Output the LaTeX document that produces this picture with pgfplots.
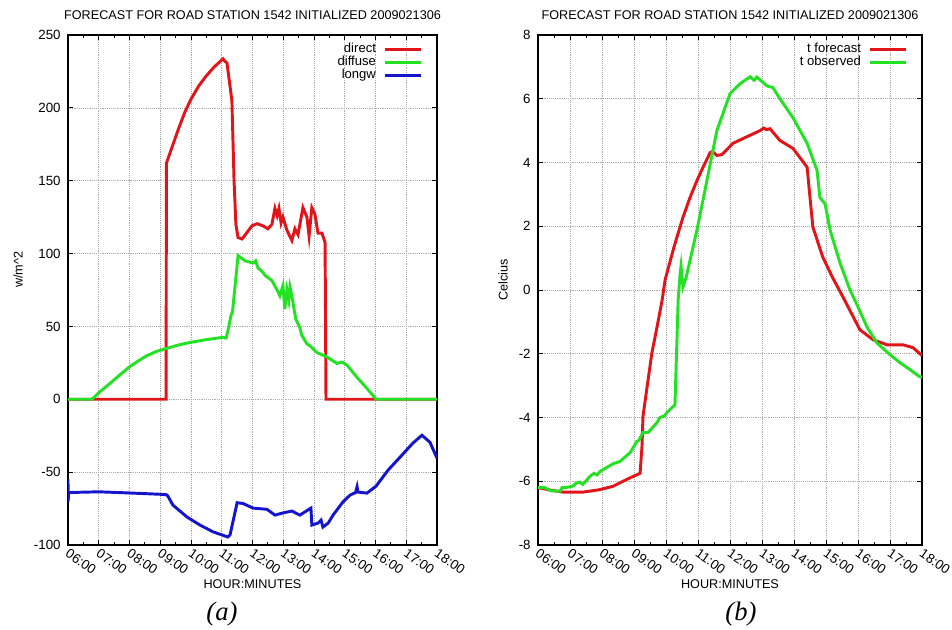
\documentclass[border=0pt]{standalone}
\usepackage{fontspec}
\setmainfont{Liberation Serif}
\newfontfamily\arial{Liberation Sans}
\usepackage{pgfplots}
\pgfplotsset{compat=1.18}

\definecolor{gpred}{RGB}{225,20,25}
\definecolor{gpgreen}{RGB}{35,225,35}
\definecolor{gpblue}{RGB}{20,20,205}

\pgfplotsset{
  roadplot/.style={
    scale only axis,
    height=382.5pt,
    xmin=6, xmax=18,
    xtick={6,...,18},
    xticklabels={06:00,07:00,08:00,09:00,10:00,11:00,12:00,13:00,14:00,15:00,16:00,17:00,18:00},
    minor x tick num=1,
    grid=major,
    major grid style={gray!65, densely dotted, line width=0.5pt},
    axis line style={line width=0.8pt},
    tick style={black, line width=0.6pt},
    major tick length=4pt, minor tick length=2.5pt,
    ticklabel style={font=\arial\fontsize{10}{12}\selectfont},
    /pgf/number format/assume math mode=true,
    xticklabel style={rotate=-35, anchor=north west, inner sep=1pt, xshift=1.5pt},
    yticklabel style={xshift=-2pt},
    title style={font=\arial\fontsize{9.5}{11}\selectfont, at={(0.5,1)}, anchor=base, yshift=5.75pt},
    xlabel style={font=\arial\fontsize{9.5}{11}\selectfont, at={(0.5,0)}, anchor=center, yshift=-29pt},
    ylabel style={font=\arial\fontsize{9.5}{11}\selectfont, anchor=center},
    legend style={draw=none, fill=none, at={(1,1)}, anchor=north east,
      xshift=-11pt, yshift=-5.5pt, inner sep=0pt, column sep=5pt, row sep=0pt,
      font=\arial\fontsize{9.8}{11}\selectfont,
      nodes={inner sep=0.4pt, text height=7pt, text depth=2pt}},
    legend plot pos=right,
    legend cell align=right,
    legend image code/.code={\draw[##1, line width=2.2pt] (0pt,0pt) -- (27pt,0pt);},
    every axis plot/.append style={line width=2.2pt, mark=none},
  }
}

\begin{document}
\begin{tikzpicture}
\path[use as bounding box] (0,0) rectangle (714pt,472.5pt);

\begin{axis}[roadplot,
  at={(51pt,63.75pt)}, anchor=south west,
  width=276.75pt,
  ymin=-100, ymax=250, ytick={-100,-50,...,250},
  title={FORECAST FOR ROAD STATION 1542 INITIALIZED 2009021306},
  xlabel={HOUR:MINUTES},
  ylabel={w/m\textasciicircum 2},
  ylabel style={at={(0,0.54)}, yshift=37.5pt},
]
\addplot[gpred] coordinates {
(6,0) (9.19,0) (9.20,162) (9.4,174) (9.6,186) (9.8,197) (10.0,206) (10.25,215)
(10.5,222) (10.75,228) (11.04,233.6) (11.10,232) (11.17,230.8) (11.33,205)
(11.40,150) (11.46,120) (11.53,111) (11.66,110) (11.98,119) (12.15,120.5)
(12.34,119) (12.50,117) (12.63,120) (12.73,131) (12.80,126) (12.86,131)
(12.93,121) (12.99,125) (13.12,116) (13.28,109) (13.38,117) (13.48,113)
(13.64,131.5) (13.77,125) (13.84,112) (13.93,131.5) (14.03,127) (14.13,114)
(14.26,114) (14.36,107.5) (14.39,0) (18,0)};
\addlegendentry{direct}
\addplot[gpgreen] coordinates {
(6,0) (6.78,0) (7.0,4.5) (7.37,11) (7.7,17) (8.02,22.6) (8.3,26.5) (8.57,30)
(8.9,33) (9.22,35) (9.6,37.3) (9.97,39) (10.52,41) (11.04,42.5) (11.14,42)
(11.20,47) (11.30,57.5) (11.35,60) (11.53,98.6) (11.76,95) (12.02,93.5)
(12.10,95) (12.18,90) (12.30,88) (12.41,85) (12.63,81.5) (12.80,75) (12.89,71)
(12.99,78) (13.05,62) (13.12,75) (13.18,68) (13.22,77) (13.28,71) (13.35,62)
(13.41,55) (13.54,49) (13.60,44) (13.77,38) (13.85,37) (14.10,32) (14.42,29)
(14.75,24.6) (14.91,25.5) (15.07,23.5) (15.40,15) (15.72,7.5) (16.02,0) (18,0)};
\addlegendentry{diffuse}
\addplot[gpblue] coordinates {
(6.00,-55) (6.005,-70) (6.02,-64) (7,-63.5) (8,-64.3) (9.0,-65.2) (9.2,-65.5)
(9.25,-66.5) (9.41,-72.6) (9.87,-80.8) (10.29,-86.3) (10.72,-91) (11.2,-94.5)
(11.27,-93) (11.5,-71) (11.69,-71.5) (12.02,-74.7) (12.47,-75.5) (12.73,-79.5)
(12.99,-78) (13.28,-76.7) (13.54,-79.5) (13.8,-76) (13.9,-74.7) (13.93,-86.3)
(14.13,-85) (14.23,-82.9) (14.29,-87.7) (14.46,-85) (14.62,-79.5) (14.94,-70.5)
(15.17,-65.8) (15.35,-64) (15.4,-60) (15.43,-63.7) (15.72,-64.4) (16.02,-59.6)
(16.41,-48.6) (16.8,-39.7) (17.22,-30) (17.51,-24.7) (17.77,-29.5) (18.0,-40.4)};
\addlegendentry{longw}
\end{axis}

\begin{axis}[roadplot,
  at={(403.5pt,63.75pt)}, anchor=south west,
  width=288pt,
  ymin=-8, ymax=8, ytick={-8,-6,...,8},
  title={FORECAST FOR ROAD STATION 1542 INITIALIZED 2009021306},
  xlabel={HOUR:MINUTES},
  ylabel={Celcius},
  ylabel style={at={(0,0.52)}, yshift=26.25pt},
]
\addplot[gpred] coordinates {
(6.0,-6.2) (6.4,-6.28) (6.78,-6.34) (7.41,-6.34) (7.9,-6.27) (8.34,-6.16)
(8.78,-5.94) (9.19,-5.75) (9.25,-4.9) (9.28,-3.97) (9.41,-3.03) (9.56,-1.97)
(9.72,-1.16) (9.88,-0.31) (9.97,0.31) (10.25,1.35) (10.53,2.28) (10.75,2.9)
(10.97,3.44) (11.18,3.9) (11.38,4.31) (11.45,4.35) (11.59,4.22) (11.75,4.25)
(12.09,4.6) (12.53,4.81) (12.94,5.0) (13.05,5.08) (13.15,5.03) (13.25,5.06)
(13.56,4.69) (13.97,4.44) (14.30,4.0) (14.41,3.85) (14.5,2.9) (14.59,1.97)
(14.9,1.03) (15.2,0.4) (15.53,-0.22) (16.06,-1.25) (16.47,-1.56) (16.91,-1.72)
(17.41,-1.72) (17.72,-1.81) (18.0,-2.06)};
\addlegendentry{t forecast}
\addplot[gpgreen] coordinates {
(6.0,-6.19) (6.2,-6.2) (6.4,-6.3) (6.69,-6.31) (6.75,-6.2) (6.91,-6.19)
(7.1,-6.15) (7.2,-6.05) (7.31,-6.03) (7.4,-6.1) (7.63,-5.84) (7.75,-5.75)
(7.85,-5.8) (7.94,-5.69) (8.16,-5.56) (8.35,-5.45) (8.56,-5.38) (8.88,-5.1)
(9.09,-4.75) (9.15,-4.72) (9.28,-4.47) (9.44,-4.47) (9.72,-4.16) (9.81,-4.0)
(9.95,-3.95) (10.03,-3.84) (10.22,-3.66) (10.28,-3.6) (10.38,-0.31) (10.44,0.5)
(10.47,0.75) (10.53,0.1) (10.63,0.4) (10.97,1.9) (11.28,3.44) (11.59,5.0)
(12.0,6.16) (12.31,6.47) (12.63,6.69) (12.75,6.58) (12.84,6.68) (13.16,6.4)
(13.34,6.35) (13.56,6.0) (13.97,5.4) (14.41,4.6) (14.72,3.75) (14.81,2.9)
(14.97,2.7) (15.13,1.87) (15.44,0.84) (15.75,0) (16.0,-0.53) (16.28,-1.16)
(16.59,-1.66) (17.0,-2.03) (17.31,-2.28) (17.63,-2.5) (17.88,-2.69) (18.0,-2.75)};
\addlegendentry{t observed}
\end{axis}

\node[font=\itshape\fontsize{20}{24}\selectfont, anchor=base] at (166.5pt,7pt) {(a)};
\node[font=\itshape\fontsize{20}{24}\selectfont, anchor=base] at (555.75pt,7pt) {(b)};
\end{tikzpicture}
\end{document}
